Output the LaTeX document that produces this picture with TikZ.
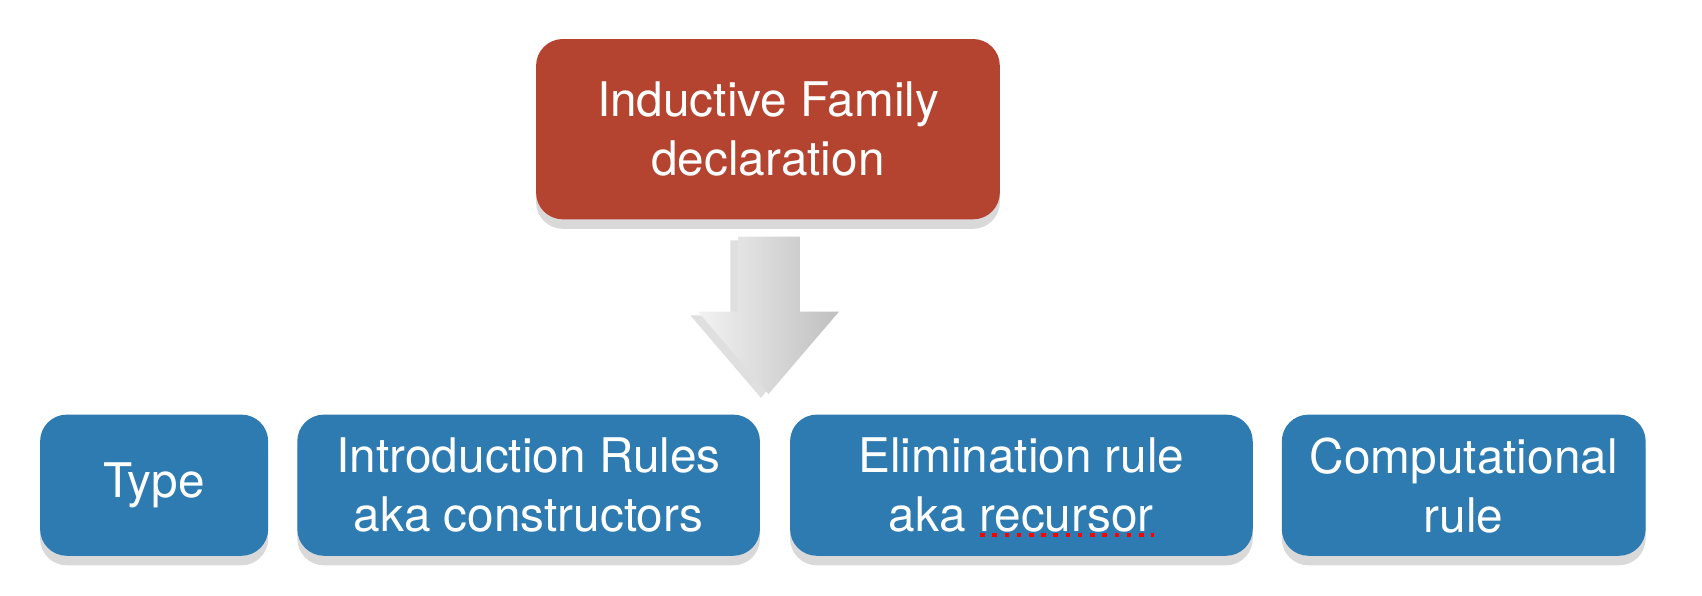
\documentclass[tikz,border=0pt]{standalone}
\usepackage{fontspec}
\setmainfont{TeX Gyre Heros}
\usetikzlibrary{shadows}
\definecolor{famred}{HTML}{B4432F}
\definecolor{ruleblue}{HTML}{2E7BB1}
\tikzset{box/.style={rounded corners=7pt, text=white, align=center, font=\fontsize{12.5}{15.5}\selectfont, drop shadow={opacity=0.3, shadow xshift=0pt, shadow yshift=-2.5pt}},
  fam/.style={box, fill=famred, minimum width=4.27cm, minimum height=1.66cm},
  rule/.style={box, fill=ruleblue, minimum height=1.3cm}}
\tikzset{bigarrow/.style={left color=black!5, right color=black!25, drop shadow={opacity=0.25, shadow xshift=-2pt, shadow yshift=-1pt}}}
\begin{document}
\begin{tikzpicture}[x=0.01cm, y=-0.01cm]
  \node[fam] (decl) at (707.5,119) {Inductive Family\\declaration};
  \node[rule, minimum width=2.1cm] (type) at (142,447) {Type};
  \node[rule, minimum width=4.26cm] (intro) at (487,447) {Introduction Rules\\aka constructors};
  \node[rule, minimum width=4.26cm] (elim) at (941,447) {Elimination rule\\aka recursor};
  \node[rule, minimum width=3.35cm] (comp) at (1348.5,447) {Computational\\rule};
  \shade[bigarrow] (680,218) -- (737,218) -- (737,287) -- (773,287) -- (708,363) -- (643,287) -- (680,287) -- cycle;
  \draw[red, dotted, line width=1.2pt] (903,493) -- (1063,493);
  \pgfresetboundingbox
  \useasboundingbox (0,0) rectangle (1568,549);
\end{tikzpicture}
\end{document}
